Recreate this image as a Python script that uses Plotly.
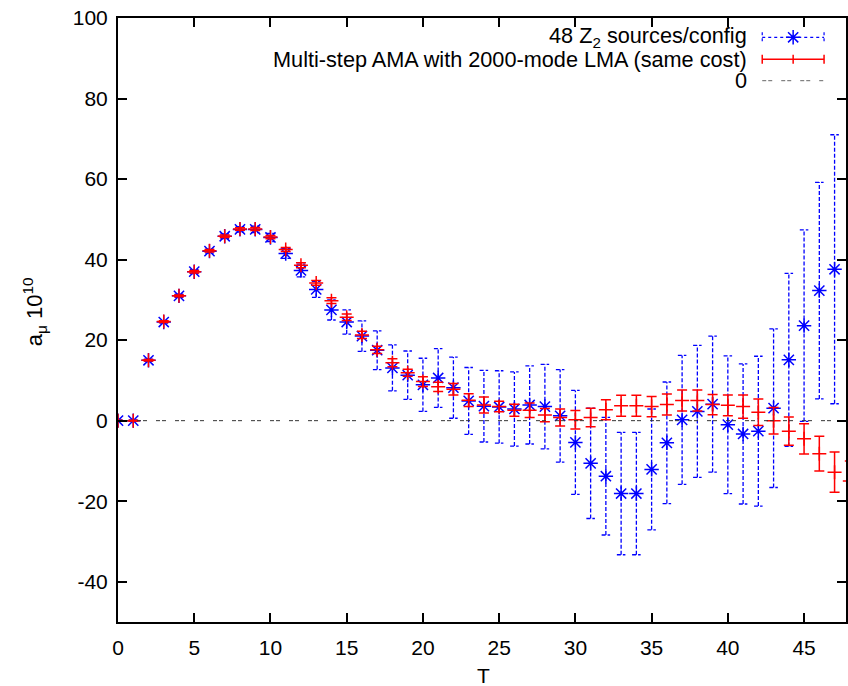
import plotly.graph_objects as go

# ---------------- data ----------------
T_blue = list(range(0, 48))
blue_val = [0.0, 0.0, 15.0, 24.5, 31.0, 37.0, 42.1, 45.8, 47.5, 47.5,
            45.5, 41.5, 37.3, 32.6, 27.5, 24.5, 21.0, 17.5, 13.1, 11.3,
            8.9, 10.6, 8.2, 4.9, 3.6, 3.4, 2.9, 3.9, 3.5, 1.2,
            -5.4, -10.6, -13.8, -18.1, -18.1, -12.1, -5.5, 0.2, 2.3, 4.1,
            -1.0, -3.3, -2.6, 3.1, 15.1, 23.6, 32.3, 37.6]
blue_err = [0.2, 0.2, 0.3, 0.3, 0.4, 0.5, 0.5, 0.6, 0.7, 0.8,
            1.0, 1.2, 1.6, 2.0, 2.5, 3.0, 3.8, 4.8, 5.7, 6.0,
            6.6, 7.3, 7.6, 8.3, 8.9, 9.0, 9.2, 9.7, 10.5, 11.5,
            12.9, 13.7, 14.6, 15.2, 15.2, 15.0, 15.1, 16.0, 16.4, 16.9,
            17.1, 17.4, 18.6, 19.7, 21.5, 23.8, 26.9, 33.4]

T_red = list(range(0, 49))
red_val = [0.0, 0.0, 15.0, 24.6, 31.0, 37.0, 42.2, 45.8, 47.6, 47.6,
           45.6, 42.5, 38.6, 34.2, 29.8, 25.7, 21.3, 17.6, 14.4, 11.9,
           9.7, 8.4, 7.8, 5.1, 3.9, 3.5, 2.6, 2.6, 1.4, 0.8,
           0.2, 0.8, 2.7, 3.7, 3.7, 3.5, 4.0, 5.0, 5.0, 4.0,
           3.8, 3.5, 2.1, 0.0, -2.6, -4.5, -8.2, -12.8, -15.0]
red_err = [0.1, 0.1, 0.2, 0.2, 0.2, 0.3, 0.3, 0.3, 0.3, 0.4,
           0.4, 0.5, 0.6, 0.6, 0.7, 0.8, 0.9, 0.9, 1.0, 0.9,
           1.2, 1.15, 1.4, 1.6, 2.0, 1.3, 1.5, 1.8, 1.65, 2.1,
           2.3, 2.3, 2.5, 2.6, 2.6, 2.5, 2.6, 2.6, 2.6, 2.5,
           2.6, 2.9, 3.3, 3.3, 3.5, 3.75, 4.3, 5.0, 5.0]

x_ticks = [0, 5, 10, 15, 20, 25, 30, 35, 40, 45]
y_ticks = [-40, -20, 0, 20, 40, 60, 80, 100]

legend_labels = ["48 Z<sub>2</sub> sources/config",
                 "Multi-step AMA with 2000-mode LMA (same cost)",
                 "0"]

# ---------------- styles ----------------
FONT = "Liberation Sans, Arial, Helvetica, sans-serif"
BLUE = "#0000ff"
RED = "#ff0000"
ZERO = "#333333"
X_MAX = 47.75
CAP = 0.28  # half-width of blue error-bar caps, in T units
BLUE_DASH = "4px,2px"
ZERO_DASH = "4px,2px,4px,9px"

# blue dashed error bars built from the data
ex, ey = [], []
for t, v, e in zip(T_blue, blue_val, blue_err):
    lo, hi = v - e, v + e
    ex += [t - CAP, t + CAP, None, t, t, None, t - CAP, t + CAP, None]
    ey += [lo, lo, None, lo, hi, None, hi, hi, None]

fig = go.Figure()

fig.add_trace(go.Scatter(x=ex, y=ey, mode="lines",
                         line=dict(color=BLUE, width=1.3, dash=BLUE_DASH),
                         hoverinfo="skip", showlegend=False))
fig.add_trace(go.Scatter(x=T_blue, y=blue_val, mode="markers",
                         marker=dict(symbol="asterisk-open", size=12, color=BLUE,
                                     line=dict(color=BLUE, width=1.5)),
                         showlegend=False))
fig.add_trace(go.Scatter(x=T_red, y=red_val, mode="markers",
                         marker=dict(symbol="cross-thin-open", size=10, color=RED,
                                     line=dict(color=RED, width=1.5)),
                         error_y=dict(type="data", array=red_err, visible=True,
                                      color=RED, thickness=1.5, width=5),
                         showlegend=False))
fig.add_trace(go.Scatter(x=[0, X_MAX], y=[0, 0], mode="lines",
                         line=dict(color=ZERO, width=1, dash=ZERO_DASH),
                         hoverinfo="skip", showlegend=False))

# ---------------- manual legend (pixel axes) ----------------
L0, L1, LM = 764, 826, 795
rows = [37.3, 59.3, 80.7]
# blue sample
fig.add_trace(go.Scatter(
    x=[L0, L1, None, L0, L0, None, L1, L1],
    y=[rows[0], rows[0], None, rows[0] - 5, rows[0] + 5, None, rows[0] - 5, rows[0] + 5],
    mode="lines", line=dict(color=BLUE, width=1.2, dash="3px,3px"),
    xaxis="x2", yaxis="y3", showlegend=False, hoverinfo="skip"))
fig.add_trace(go.Scatter(x=[LM], y=[rows[0]], mode="markers",
                         marker=dict(symbol="asterisk-open", size=12, color=BLUE,
                                     line=dict(color=BLUE, width=1.5)),
                         xaxis="x2", yaxis="y3", showlegend=False, hoverinfo="skip"))
# red sample
fig.add_trace(go.Scatter(
    x=[L0, L1, None, L0, L0, None, L1, L1, None, LM, LM],
    y=[rows[1], rows[1], None, rows[1] - 4.5, rows[1] + 4.5, None,
       rows[1] - 4.5, rows[1] + 4.5, None, rows[1] - 4.5, rows[1] + 4.5],
    mode="lines", line=dict(color=RED, width=1.5),
    xaxis="x2", yaxis="y3", showlegend=False, hoverinfo="skip"))
# zero sample
fig.add_trace(go.Scatter(x=[L0, L1], y=[rows[2], rows[2]], mode="lines",
                         line=dict(color="#666666", width=1, dash=ZERO_DASH),
                         xaxis="x2", yaxis="y3", showlegend=False, hoverinfo="skip"))

annotations = []
for lab, ry in zip(legend_labels, rows):
    annotations.append(dict(x=751, y=ry, xref="x2", yref="y3", text=lab,
                            showarrow=False, xanchor="right", yanchor="middle",
                            font=dict(family=FONT, size=21.7, color="black")))

# axis titles
annotations.append(dict(x=(485 - 118) / 730, y=(622 - 676) / 604, xref="paper", yref="paper",
                        text="T", showarrow=False, xanchor="center", yanchor="middle",
                        font=dict(family=FONT, size=21, color="black")))
annotations.append(dict(x=(34 - 118) / 730, y=(622 - 312) / 604, xref="paper", yref="paper",
                        text="a<sub>μ</sub> 10<sup>10</sup>", textangle=-90,
                        showarrow=False, xanchor="center", yanchor="middle",
                        font=dict(family=FONT, size=22, color="black")))

axis_common = dict(showgrid=False, zeroline=False, showline=True, linewidth=2,
                   linecolor="black", mirror="ticks", ticks="inside", ticklen=9,
                   tickwidth=1.5, tickcolor="black",
                   tickfont=dict(family=FONT, size=21, color="black"))

fig.update_layout(
    width=848, height=686,
    margin=dict(l=118, r=0, t=18, b=64),
    paper_bgcolor="white", plot_bgcolor="white",
    showlegend=False,
    xaxis=dict(range=[0, X_MAX], tickvals=x_ticks, ticktext=[str(v) for v in x_ticks],
               ticklabelstandoff=6, **axis_common),
    yaxis=dict(range=[-50, 100], tickvals=y_ticks, ticktext=[str(v) for v in y_ticks],
               ticklabelstandoff=4, **axis_common),
    xaxis2=dict(range=[118, 848], overlaying="x", visible=False),
    yaxis3=dict(range=[622, 18], overlaying="y", visible=False),
    annotations=annotations,
)

fig.write_html("out.html")
